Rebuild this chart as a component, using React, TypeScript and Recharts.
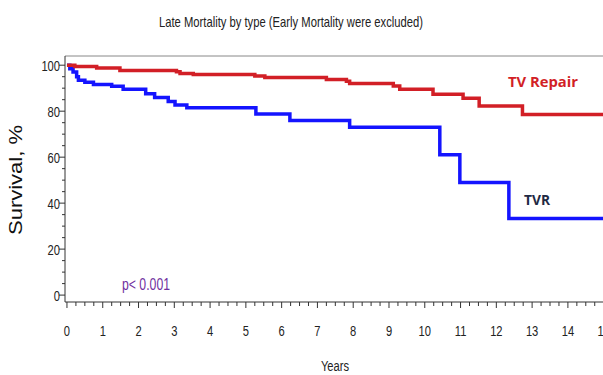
import { LineChart, Line, XAxis, YAxis, ReferenceLine } from "recharts";

// Kaplan-Meier style step curves
const repairYears = [0, 0.22, 0.83, 1.48, 3.06, 3.16, 3.53, 5.25, 5.53, 7.25, 7.81, 7.9, 9.12, 9.3, 10.23, 11.07, 11.52, 12.73, 15.4];
const repairSurvival = [100, 99.4, 98.8, 97.7, 97.1, 96.4, 96, 95.3, 94.7, 93.8, 93, 92, 91, 89.5, 87.4, 85.6, 82.3, 78.6, 78.6];

const tvrYears = [0, 0.08, 0.17, 0.27, 0.32, 0.5, 0.74, 1.25, 1.57, 2.2, 2.45, 2.83, 3.02, 3.35, 5.28, 6.23, 7.9, 10.42, 10.98, 12.35, 15.4];
const tvrSurvival = [100, 98.5, 97, 95, 93.5, 92.6, 91.6, 90.8, 89.5, 87.6, 86, 84.2, 82.7, 81.5, 78.8, 75.9, 73, 61, 49, 33.3, 33.3];

const xMajorTicks = [0, 1, 2, 3, 4, 5, 6, 7, 8, 9, 10, 11, 12, 13, 14, 15];
const yMajorTicks = [0, 20, 40, 60, 80, 100];

const xTicks = xMajorTicks.flatMap((t) => [t, t + 0.25, t + 0.5, t + 0.75]);
const yTicks = yMajorTicks.flatMap((t) => (t < 100 ? [t, t + 5, t + 10, t + 15] : [t]));

const repairData = repairYears.map((x, i) => ({ x, y: repairSurvival[i] }));
const tvrData = tvrYears.map((x, i) => ({ x, y: tvrSurvival[i] }));

const sans = "'Liberation Sans', Arial, sans-serif";

// squeezed text, the original uses a narrow helvetica
const Narrow = ({ x, y, anchor = "middle", size = 14, sx = 0.72, fill = "#222", children }: any) => (
  <text
    transform={`translate(${x} ${y}) scale(${sx} 1)`}
    textAnchor={anchor}
    fontFamily={sans}
    fontSize={size}
    fill={fill}
  >
    {children}
  </text>
);

const XTick = (props: any) => {
  const { x, y, payload } = props;
  const v = payload.value;
  const major = Number.isInteger(v);
  return (
    <g>
      <line x1={x} x2={x} y1={y} y2={y + (major ? 6 : 4)} stroke="#333" strokeWidth={1} />
      {major && (
        <Narrow x={x} y={y + 34} size={15.5}>
          {v}
        </Narrow>
      )}
    </g>
  );
};

const YTick = (props: any) => {
  const { x, y, payload } = props;
  const v = payload.value;
  const major = v % 20 === 0;
  return (
    <g>
      <line x1={x} x2={x - (major ? 6 : 3)} y1={y} y2={y} stroke="#333" strokeWidth={1} />
      {major && (
        <Narrow x={x - 5} y={y + 5.5} anchor="end" size={15.5}>
          {v}
        </Narrow>
      )}
    </g>
  );
};

export default function App() {
  return (
    <div
      style={{
        position: "fixed",
        left: 0,
        top: 0,
        width: 603,
        height: 375,
        overflow: "hidden",
        background: "#fff",
      }}
    >
      <LineChart
        width={630}
        height={375}
        margin={{ top: 56, right: 12, left: 5, bottom: 13 }}
      >
        <XAxis
          type="number"
          dataKey="x"
          domain={[-0.055, 15.4]}
          ticks={xTicks}
          interval={0}
          tick={<XTick />}
          tickLine={false}
          tickSize={0}
          tickMargin={0}
          height={60}
          axisLine={{ stroke: "#333" }}
          allowDataOverflow
        />
        <YAxis
          type="number"
          dataKey="y"
          domain={[-3, 104]}
          ticks={yTicks}
          interval={0}
          tick={<YTick />}
          tickLine={false}
          tickSize={0}
          tickMargin={0}
          width={60}
          axisLine={{ stroke: "#333" }}
          allowDataOverflow
        />
        <ReferenceLine y={104} stroke="#888" strokeWidth={1} />
        <Line
          data={tvrData}
          dataKey="y"
          type="stepAfter"
          stroke="#1414ff"
          strokeWidth={3.5}
          dot={false}
          isAnimationActive={false}
        />
        <Line
          data={repairData}
          dataKey="y"
          type="stepAfter"
          stroke="#d21f26"
          strokeWidth={3.5}
          dot={false}
          isAnimationActive={false}
        />
      </LineChart>
      <svg
        width={603}
        height={375}
        style={{ position: "absolute", left: 0, top: 0, pointerEvents: "none" }}
      >
        <text x={291} y={27} textAnchor="middle" fontFamily={sans} fontSize={15} fill="#222" textLength={264} lengthAdjust="spacingAndGlyphs">
          Late Mortality by type (Early Mortality were excluded)
        </text>
        <text
          x={0}
          y={0}
          transform="translate(22 180) rotate(-90)"
          textAnchor="middle"
          fontFamily={sans}
          fontSize={18}
          fill="#111"
          textLength={110}
          lengthAdjust="spacingAndGlyphs"
        >
          Survival,  %
        </text>
        <Narrow x={335} y={371} size={15.5}>
          Years
        </Narrow>
        <text x={543} y={87} textAnchor="middle" fontFamily="'Open Sans', 'Liberation Sans', sans-serif" fontWeight="bold" fontSize={15} fill="#d21f26" textLength={70} lengthAdjust="spacingAndGlyphs">
          TV Repair
        </text>
        <text x={537} y={205} textAnchor="middle" fontFamily="'Open Sans', 'Liberation Sans', sans-serif" fontWeight="bold" fontSize={14} fill="#1f2a44" textLength={26} lengthAdjust="spacingAndGlyphs">
          TVR
        </text>
        <text x={146} y={290} textAnchor="middle" fontFamily={sans} fontSize={16} fill="#7030a0" textLength={48} lengthAdjust="spacingAndGlyphs">
          p&lt; 0.001
        </text>
      </svg>
    </div>
  );
}
